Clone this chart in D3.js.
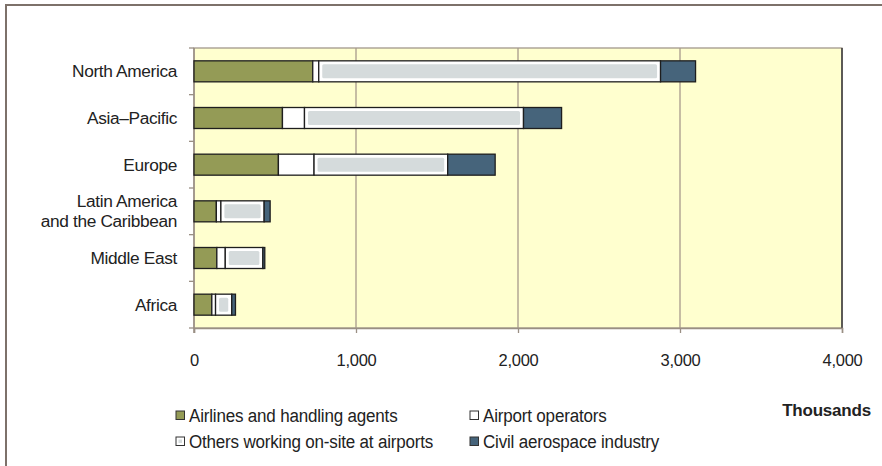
<!DOCTYPE html>
<html><head><meta charset="utf-8">
<script src="https://cdn.jsdelivr.net/npm/d3@7"></script>
<style>
html,body{margin:0;padding:0;background:#fff;}
svg{display:block;font-family:"Liberation Sans",Arial,sans-serif;}
</style></head>
<body><svg id="c" width="882" height="466"></svg>
<script>
const regions = ["North America","Asia\u2013Pacific","Europe","Latin America|and the Caribbean","Middle East","Africa"];
const airlines = [733, 546, 521, 138, 141, 110];
const airportOps = [37, 136, 220, 28, 52, 23];
const others = [2110, 1352, 825, 267, 232, 100];
const aerospace = [216, 235, 293, 37, 12, 23];
const seriesNames = ["Airlines and handling agents","Airport operators","Others working on-site at airports","Civil aerospace industry"];
const xTicks = [0, 1000, 2000, 3000, 4000];

const colors = ["#949b56", "#ffffff", "#d5dbdc", "#46647b"];
const svg = d3.select("#c");

// outer frame
svg.append("path").attr("d","M6,470 L6,5 L890,5").attr("fill","none").attr("stroke","#7d716a").attr("stroke-width",2);

const m = {l:194, r:842, t:48, b:328};
const x = d3.scaleLinear().domain([0,4000]).range([m.l,m.r]);
const y = d3.scaleBand().domain(regions).range([m.t,m.b]).paddingInner(0.55).paddingOuter(0.275);

svg.append("rect").attr("x",m.l).attr("y",m.t).attr("width",m.r-m.l).attr("height",m.b-m.t)
  .attr("fill","#ffffcf").attr("stroke","#9a8f84").attr("stroke-width",1.2);
svg.append("line").attr("x1",m.r).attr("x2",m.r).attr("y1",m.t).attr("y2",m.b).attr("stroke","#3a3a3a").attr("stroke-width",1.5);

// gridlines
svg.append("g").selectAll("line").data(xTicks.slice(1,-1)).join("line")
  .attr("x1",d=>x(d)).attr("x2",d=>x(d)).attr("y1",m.t).attr("y2",m.b)
  .attr("stroke","#a89a8c").attr("stroke-width",1.3);

// x axis
const xa = svg.append("g").attr("transform",`translate(0,${m.b})`)
  .call(d3.axisBottom(x).tickValues(xTicks).tickSize(5).tickPadding(21).tickFormat(d3.format(",")));
xa.select(".domain").attr("stroke","#9a8f84").attr("stroke-width",1.5);
xa.selectAll(".tick line").attr("stroke","#9a8f84").attr("stroke-width",1.3);
xa.selectAll("text").attr("font-size",16.5).attr("fill","#222").attr("font-family","Liberation Sans, Arial").attr("letter-spacing","-0.3");

// y axis
const yBounds = d3.range(regions.length+1).map(i => m.t + i*(m.b-m.t)/regions.length);
svg.append("line").attr("x1",m.l).attr("x2",m.l).attr("y1",m.t).attr("y2",m.b+5).attr("stroke","#9a8f84").attr("stroke-width",1.5);
svg.append("g").selectAll("line").data(yBounds).join("line")
  .attr("x1",m.l-5).attr("x2",m.l).attr("y1",d=>d).attr("y2",d=>d).attr("stroke","#9a8f84").attr("stroke-width",1.3);

const yl = svg.append("g");
regions.forEach(r=>{
  const parts = r.split("|");
  const cy = y(r)+y.bandwidth()/2;
  const t = yl.append("text").attr("x",177).attr("text-anchor","end").attr("font-size",17.3)
    .attr("fill","#222").attr("letter-spacing","-0.35");
  parts.forEach((p,i)=>{
    t.append("tspan").attr("x",177).attr("y", cy + 6 + (i - (parts.length-1)/2)*20).text(p);
  });
});

// stacked bars
const data = regions.map((r,i)=>({region:r, vals:[airlines[i],airportOps[i],others[i],aerospace[i]]}));
const bars = svg.append("g");
data.forEach(d=>{
  let acc = 0;
  d.vals.forEach((v,k)=>{
    const x0 = x(acc), x1 = x(acc+v);
    acc += v;
    const yy = y(d.region), h = y.bandwidth();
    if(k===2){
      bars.append("rect").attr("x",x0).attr("y",yy).attr("width",x1-x0).attr("height",h)
        .attr("fill","#fff").attr("stroke","#1e1e1e").attr("stroke-width",1.3);
      const ins = 3.5;
      if(x1-x0 > 2*ins)
        bars.append("rect").attr("x",x0+ins).attr("y",yy+ins).attr("width",x1-x0-2*ins).attr("height",h-2*ins)
          .attr("fill",colors[2]).attr("rx",1.5);
    } else {
      bars.append("rect").attr("x",x0).attr("y",yy).attr("width",x1-x0).attr("height",h)
        .attr("fill",colors[k]).attr("stroke","#1e1e1e").attr("stroke-width",1.3);
    }
  });
});

// legend
const lg = svg.append("g").attr("fill","#222");
const lpos = [[176,416],[470,416],[176,442],[470,442]];
seriesNames.forEach((s,k)=>{
  const [lx,ly] = lpos[k];
  lg.append("rect").attr("x",lx).attr("y",ly-5).attr("width",8.5).attr("height",8.5)
    .attr("fill",k===2?"#fff":colors[k]).attr("stroke","#333").attr("stroke-width",1);
  if(k===2) lg.append("rect").attr("x",lx+2.5).attr("y",ly-2.5).attr("width",3.5).attr("height",3.5).attr("fill",colors[2]);
  lg.append("text").attr("transform",`translate(${lx+13},${ly+6}) scale(0.895,1)`)
    .attr("font-size",19).attr("letter-spacing","-0.2").text(s);
});

svg.append("text").attr("x",871).attr("y",416).attr("text-anchor","end").attr("font-size",17)
  .attr("font-weight","bold").attr("fill","#222").attr("letter-spacing","-0.2").text("Thousands");
</script></body></html>
